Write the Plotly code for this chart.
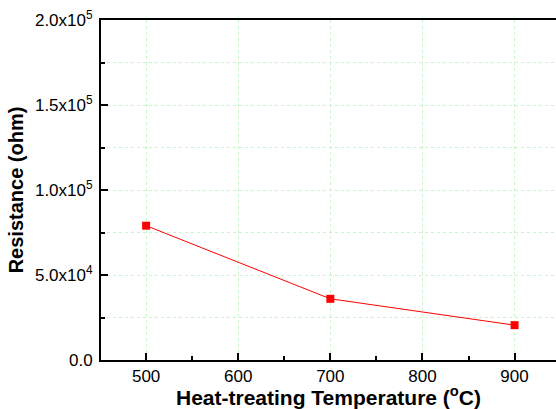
import plotly.graph_objects as go

temps = [500, 700, 900]
resistance = [79000, 36000, 20500]
x_ticks = [500, 600, 700, 800, 900]
y_ticks = [0, 50000, 100000, 150000, 200000]
y_tick_labels = ["0.0", "5.0x10<sup>4</sup>", "1.0x10<sup>5</sup>", "1.5x10<sup>5</sup>", "2.0x10<sup>5</sup>"]

grid_col = "#c8f5c8"
font_family = "Liberation Sans, Arial, sans-serif"

fig = go.Figure()
fig.add_trace(go.Scatter(
    x=temps, y=resistance, mode="lines+markers",
    line=dict(color="#ff0000", width=1),
    marker=dict(symbol="square", size=8, color="#ff0000"),
    showlegend=False,
))

fig.update_layout(
    width=556, height=409,
    margin=dict(l=101, r=0, t=20, b=49),
    paper_bgcolor="white", plot_bgcolor="white",
    font=dict(family=font_family, size=17, color="black"),
)
fig.update_xaxes(
    range=[451, 945], tickvals=x_ticks, ticks="inside", ticklen=7, tickwidth=1.5,
    tickcolor="black", showline=True, linecolor="black", linewidth=2, mirror=True,
    showgrid=True, gridcolor=grid_col, griddash="dot", gridwidth=1, zeroline=False,
    minor=dict(dtick=50, tick0=500, ticks="inside", ticklen=4, tickcolor="black", showgrid=False),
    title=dict(text="<b>Heat-treating Temperature (<sup>o</sup>C)</b>", font=dict(size=21), standoff=3),
    tickfont=dict(size=17),
)
fig.update_yaxes(
    range=[0, 200000], tickvals=y_ticks, ticktext=y_tick_labels, ticks="inside", ticklen=7,
    tickwidth=1.5, tickcolor="black", showline=True, linecolor="black", linewidth=2,
    showgrid=True, gridcolor=grid_col, griddash="dot", gridwidth=1, zeroline=False,
    minor=dict(dtick=25000, tick0=0, ticks="inside", ticklen=4, tickcolor="black",
               showgrid=True, gridcolor=grid_col, griddash="dot"),
    title=dict(text="<b>Resistance (ohm)</b>", font=dict(size=20), standoff=6),
    tickfont=dict(size=17), ticklabelstandoff=3,
)

fig.write_html("out.html")
